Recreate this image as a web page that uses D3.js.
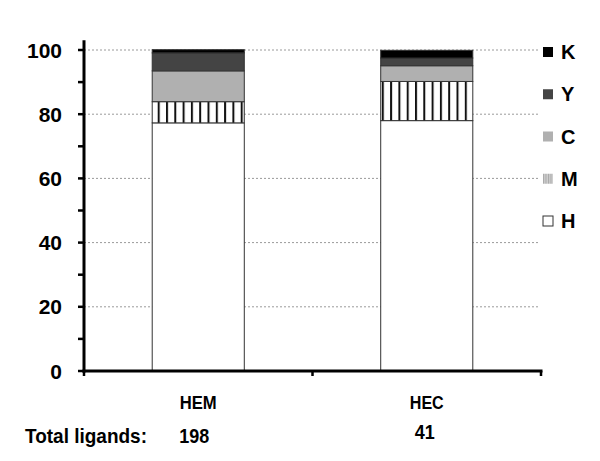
<!DOCTYPE html>
<html>
<head>
<meta charset="utf-8">
<script src="https://cdn.jsdelivr.net/npm/d3@7"></script>
<style>
  html, body { margin: 0; padding: 0; background: #fff; }
  svg { display: block; font-family: "Liberation Sans", Arial, sans-serif; font-weight: bold; }
</style>
</head>
<body>
<svg id="chart" width="600" height="461"></svg>
<script>
// ---- data ----
const categories = ["HEM", "HEC"];
const totals = [198, 41];
const seriesKeys = ["H", "M", "C", "Y", "K"];
const valuesH = [77.3, 78.0];
const valuesM = [6.6, 12.2];
const valuesC = [9.6, 4.9];
const valuesY = [5.6, 2.4];
const valuesK = [1.0, 2.4];
const yTicks = [0, 20, 40, 60, 80, 100];
const yMinorTicks = [10, 30, 50, 70, 90];
const legendOrder = ["K", "Y", "C", "M", "H"];

const rows = categories.map((c, i) => ({
  cat: c, H: valuesH[i], M: valuesM[i], C: valuesC[i], Y: valuesY[i], K: valuesK[i]
}));

const svg = d3.select("#chart");
const defs = svg.append("defs");

// vertical stripe pattern for M
const pat = defs.append("pattern").attr("id", "stripes")
  .attr("patternUnits", "userSpaceOnUse").attr("width", 8.3).attr("height", 10);
pat.append("rect").attr("width", 8.3).attr("height", 10).attr("fill", "#fff");
pat.append("rect").attr("x", 0).attr("width", 2).attr("height", 10).attr("fill", "#111");

const patL = defs.append("pattern").attr("id", "stripesLegend")
  .attr("patternUnits", "userSpaceOnUse").attr("width", 2.5).attr("height", 10);
patL.append("rect").attr("width", 2.5).attr("height", 10).attr("fill", "#cfcfcf");
patL.append("rect").attr("width", 1).attr("height", 10).attr("fill", "#a8a8a8");

const fills = { H: "#ffffff", M: "url(#stripes)", C: "#b0b0b0", Y: "#444444", K: "#000000" };
const legendFills = { H: "#ffffff", M: "url(#stripesLegend)", C: "#b0b0b0", Y: "#444444", K: "#000000" };

const x0 = 84, x1 = 541;
const y = d3.scaleLinear().domain([0, 100]).range([371, 50]);
const x = d3.scaleBand().domain(categories).range([x0, x1]).paddingInner(0.597).paddingOuter(0.2985);

// gridlines
svg.append("g").selectAll("line").data(yTicks.filter(d => d > 0)).join("line")
  .attr("x1", x0).attr("x2", 540)
  .attr("y1", d => y(d)).attr("y2", d => y(d))
  .attr("stroke", "#9a9a9a").attr("stroke-width", 1).attr("stroke-dasharray", "2,2");

// bars
const stack = d3.stack().keys(seriesKeys)(rows);
svg.append("g").selectAll("g").data(stack).join("g")
  .attr("fill", d => fills[d.key])
  .selectAll("rect").data(d => d).join("rect")
  .attr("x", d => x(d.data.cat))
  .attr("width", x.bandwidth())
  .attr("y", d => y(d[1]))
  .attr("height", d => y(d[0]) - y(d[1]))
  .attr("stroke", "#333").attr("stroke-width", 1);

// y axis
const yAxis = svg.append("g");
yAxis.append("line").attr("x1", x0).attr("x2", x0).attr("y1", y(103)).attr("y2", y(0) + 1.5)
  .attr("stroke", "#000").attr("stroke-width", 3);
yAxis.selectAll("line.tick").data(yTicks.concat(yMinorTicks)).join("line").attr("class", "tick")
  .attr("x1", x0 - 6).attr("x2", x0).attr("y1", d => y(d)).attr("y2", d => y(d))
  .attr("stroke", "#000").attr("stroke-width", 2.5);
yAxis.selectAll("text").data(yTicks).join("text")
  .attr("x", 62).attr("y", d => y(d)).attr("dy", "0.36em")
  .attr("text-anchor", "end").attr("font-size", 21).text(d => d);

// x axis
const xAxis = svg.append("g");
xAxis.append("line").attr("x1", x0 - 1.5).attr("x2", x1 + 1.5).attr("y1", y(0)).attr("y2", y(0))
  .attr("stroke", "#000").attr("stroke-width", 3);
const xTickPos = [x0, (x0 + x1) / 2, x1];
xAxis.selectAll("line.tick").data(xTickPos).join("line").attr("class", "tick")
  .attr("x1", d => d).attr("x2", d => d).attr("y1", y(0)).attr("y2", y(0) + 5)
  .attr("stroke", "#000").attr("stroke-width", 2.5);
xAxis.selectAll("text.cat").data(categories).join("text").attr("class", "cat")
  .attr("x", d => x(d) + x.bandwidth() / 2).attr("y", 409)
  .attr("text-anchor", "middle").attr("font-size", 19)
  .attr("textLength", (d, i) => i === 0 ? 37 : 34).attr("lengthAdjust", "spacingAndGlyphs")
  .text(d => d);

// totals row
svg.append("text").attr("x", 25).attr("y", 443).attr("font-size", 20.5)
  .attr("textLength", 122).attr("lengthAdjust", "spacingAndGlyphs").text("Total ligands:");
svg.selectAll("text.tot").data(categories).join("text").attr("class", "tot")
  .attr("x", (d, i) => x(d) + x.bandwidth() / 2 - 4 + i * 2).attr("y", (d, i) => i === 0 ? 443 : 439)
  .attr("text-anchor", "middle").attr("font-size", 20.5)
  .attr("textLength", (d, i) => i === 0 ? 30 : 20).attr("lengthAdjust", "spacingAndGlyphs")
  .text((d, i) => totals[i]);

// legend
const leg = svg.append("g");
const legY = d3.scalePoint().domain(legendOrder).range([52, 221]);
const li = leg.selectAll("g").data(legendOrder).join("g")
  .attr("transform", d => `translate(543,${legY(d)})`);
li.append("rect").attr("x", 0).attr("y", -5).attr("width", 10).attr("height", 10)
  .attr("fill", d => legendFills[d])
  .attr("stroke", d => d === "H" ? "#333" : "none").attr("stroke-width", 1);
li.append("text").attr("x", 18).attr("dy", "0.36em").attr("font-size", 20).text(d => d);
</script>
</body>
</html>
